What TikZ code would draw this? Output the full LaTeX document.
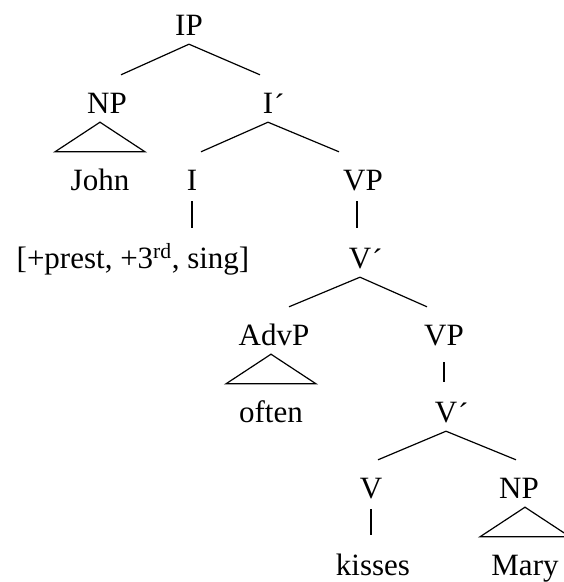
\documentclass[tikz,border=0pt]{standalone}
\usepackage{fontspec}
\setmainfont{Liberation Serif}
\usepackage{tikz}
\usetikzlibrary{calc}
\tikzset{
  tree/cat/.style={font=\fontsize{31}{31}\selectfont, inner sep=0pt, anchor=base, text height=38pt, text depth=9pt},
  tree/branch/.style={line width=1.2pt},
  tree/bar/.style={line width=2pt, shorten <=2pt, shorten >=1.5pt},
  tree/roof/.style={line width=1.2pt, line join=miter}
}
% bar level mark, kept out of the node width
\newcommand{\barmark}{\rlap{\kern1pt\raisebox{-2pt}{´}}}

\begin{document}
\begin{tikzpicture}[x=1pt, y=-1pt]
  \useasboundingbox (0,0) rectangle (564,582);
  \clip (0,0) rectangle (564,582);

  % Categories, row by row
  \node[tree/cat] (IP)     at (189,35)  {IP};
  \node[tree/cat] (NPa)    at (107,113) {NP};
  \node[tree/cat] (Ibar)   at (268,113) {I\barmark};
  \node[tree/cat] (John)   at (100,190) {John};
  \node[tree/cat] (I)      at (192,190) {I};
  \node[tree/cat] (VPa)    at (363,190) {VP};
  \node[tree/cat] (feat)   at (133,268) {[+prest, +3\textsuperscript{rd}, sing]};
  \node[tree/cat] (Vbara)  at (360,268) {V\barmark};
  \node[tree/cat] (AdvP)   at (274,345) {AdvP};
  \node[tree/cat] (VPb)    at (444,345) {VP};
  \node[tree/cat] (often)  at (271,422) {often};
  \node[tree/cat] (Vbarb)  at (446,422) {V\barmark};
  \node[tree/cat] (V)      at (371,498) {V};
  \node[tree/cat] (NPb)    at (519,498) {NP};
  \node[tree/cat] (kisses) at (373,575) {kisses};
  \node[tree/cat] (Mary)   at (525,575) {Mary};

  % Branching
  \draw[tree/branch] (IP.south) -- ([xshift=14pt]NPa.north);
  \draw[tree/branch] (IP.south) -- ([xshift=-8pt]Ibar.north);
  \draw[tree/branch] (Ibar.south) -- ([xshift=9pt]I.north);
  \draw[tree/branch] (Ibar.south) -- ([xshift=-24pt]VPa.north);
  \draw[tree/branch] (Vbara.south) -- ([xshift=15pt]AdvP.north);
  \draw[tree/branch] (Vbara.south) -- ([xshift=-17pt]VPb.north);
  \draw[tree/branch] (Vbarb.south) -- ([xshift=7pt]V.north);
  \draw[tree/branch] (Vbarb.south) -- ([xshift=-3pt]NPb.north);

  % Non-branching
  \draw[tree/bar] (I.south) -- (I.south |- feat.north);
  \draw[tree/bar] ([xshift=-6pt]VPa.south) -- ([xshift=-6pt]VPa.south |- Vbara.north);
  \draw[tree/bar, shorten <=8pt] (VPb.south) -- (VPb.south |- Vbarb.north);
  \draw[tree/bar] (V.south) -- (V.south |- kisses.north);

  % Roofs
  \draw[tree/roof] (John |- NPa.south) -- ([xshift=-45pt]John.north) -- ([xshift=45pt]John.north) -- cycle;
  \draw[tree/roof] (often |- AdvP.south) -- ([xshift=-45pt]often.north) -- ([xshift=45pt]often.north) -- cycle;
  \draw[tree/roof] (Mary |- NPb.south) -- ([xshift=-45pt]Mary.north) -- ([xshift=45pt]Mary.north) -- cycle;
\end{tikzpicture}
\end{document}
